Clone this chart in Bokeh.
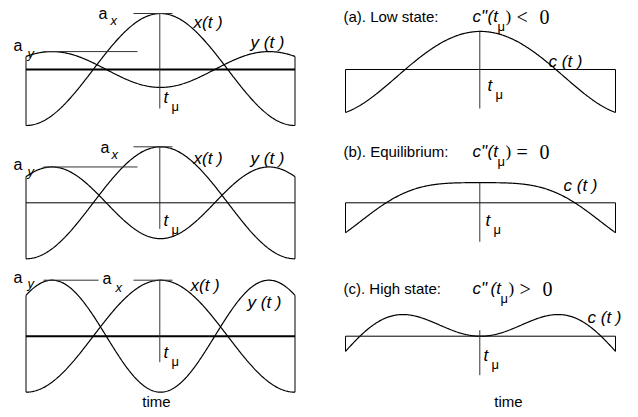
import numpy as np
from bokeh.plotting import figure
from bokeh.models import Range1d
from bokeh.core.properties import value
from bokeh.embed import file_html
from bokeh.resources import INLINE

# ---------------- data ----------------
panel_ids = ["a", "b", "c"]
state_labels = ["(a). Low state:", "(b). Equilibrium:", "(c). High state:"]
curv_signs = ["<", "=", ">"]
amp_x = [1.0, 1.0, 1.0]          # a_x per row
amp_y = [0.32, 0.64, 1.0]        # a_y per row
freq_ratio_y = 1.24              # y(t) oscillates faster than x(t)
x_name = "x(t )"
y_name = "y (t )"
c_name = "c (t )"
time_label = "time"
t_mu = "t"
mu = "\u03bc"

# ---------------- layout ----------------
W, H = 630, 409
p = figure(width=W, height=H, x_range=Range1d(0, W), y_range=Range1d(H, 0),
           output_backend="svg", toolbar_location=None, min_border=0)
p.axis.visible = False
p.grid.visible = False
p.outline_line_color = None
p.background_fill_color = "white"
p.border_fill_color = "white"

cxL, cxR = 160.0, 480.0
hwL, hwR = 134.5, 135.0
base_y = [69.0, 202.3, 335.7]
S = 56.0
base_w_left = [2.0, 1.0, 2.0]
tline_bottom_left = [39, 26, 26]
tline_bottom_right = 39

SANS = "Liberation Sans"
SERIF = "Liberation Serif"


def label(x, y, s, size=15, style="normal", font=SANS, align="left", baseline="middle"):
    p.text(x=[x], y=[y], text=[s], text_font=value(font), text_font_size=f"{size}px",
           text_font_style=style, text_align=align, text_baseline=baseline, text_color="black")


t = np.linspace(-np.pi, np.pi, 301)

for i in range(3):
    yb = base_y[i]
    xs = amp_x[i] * np.cos(t)
    ys = -amp_y[i] * np.cos(freq_ratio_y * t)
    cs = xs + ys

    # ---- left panel ----
    px = cxL + t / np.pi * hwL
    p.line(px, yb - S * xs, line_color="black", line_width=1.2)
    p.line(px, yb - S * ys, line_color="black", line_width=1.2)
    p.line([cxL - hwL, cxL + hwL], [yb, yb], line_color="black", line_width=base_w_left[i])
    p.line([cxL - hwL, cxL - hwL], [yb - S * ys[0], yb - S * xs[0]], line_color="black", line_width=1)
    p.line([cxL + hwL, cxL + hwL], [yb - S * ys[-1], yb - S * xs[-1]], line_color="black", line_width=1)
    # t_mu vertical
    p.line([cxL - 0.7, cxL - 0.7], [yb - S * amp_x[i], yb + tline_bottom_left[i]], line_color="#333333", line_width=1)
    # a_x tick
    p.line([cxL - 27, cxL + 12], [yb - S * amp_x[i]] * 2, line_color="#333333", line_width=1)
    # a_y tick
    ay_end = cxL - 23 if i < 2 else cxL - 62
    p.line([cxL - 117, ay_end], [yb - S * amp_y[i]] * 2, line_color="#333333", line_width=1)

    # ---- right panel ----
    qx = cxR + t / np.pi * hwR
    p.line(qx, yb - S * cs, line_color="black", line_width=1.2)
    p.line([cxR - hwR, cxR + hwR], [yb, yb], line_color="black", line_width=1)
    p.line([cxR - hwR, cxR - hwR], [yb, yb - S * cs[0]], line_color="black", line_width=1)
    p.line([cxR + hwR, cxR + hwR], [yb, yb - S * cs[-1]], line_color="black", line_width=1)
    top_c = yb - S * cs[len(cs) // 2]
    if i == 2:
        top_c = yb - 6
    p.line([cxR - 0.7, cxR - 0.7], [top_c, yb + tline_bottom_right], line_color="#333333", line_width=1)

# ---------------- texts: left panels ----------------
# row a
label(13, 45, "a", 16)
label(27, 53, "y", 13, "italic")
label(98, 13, "a", 16)
label(110, 20, "x", 13, "italic")
label(193, 22, x_name, 17, "italic")
label(250, 42, y_name, 17, "italic")
label(163, 97, t_mu, 17, "italic")
label(171, 106, mu, 13)
# row b
label(13, 164, "a", 16)
label(27, 171, "y", 13, "italic")
label(100, 147, "a", 16)
label(111, 154, "x", 13, "italic")
label(193, 158, x_name, 17, "italic")
label(250, 158, y_name, 17, "italic")
label(163, 220, t_mu, 17, "italic")
label(171, 229, mu, 13)
# row c
label(13, 277, "a", 16)
label(27, 283, "y", 13, "italic")
label(102, 278, "a", 16)
label(115, 287, "x", 13, "italic")
label(190, 285, x_name, 17, "italic")
label(247, 302, y_name, 17, "italic")
label(163, 352, t_mu, 17, "italic")
label(171, 361, mu, 13)

# ---------------- texts: right panels ----------------
title_y = [16, 151, 288]
for i in range(3):
    ty = title_y[i]
    label(343, ty, state_labels[i], 15)
    label(472, ty, 'c"', 17, "italic")
    gap = 0 if i < 2 else 3
    label(487 + gap, ty, "(t", 17, "italic")
    label(497 + gap, ty + 10, mu, 13)
    label(505 + gap, ty, ")", 17, font=SERIF)
    label(516 + gap, ty, curv_signs[i], 20, font=SERIF)
    label(539 + gap, ty, "0", 20, font=SERIF)

label(548, 61, c_name, 17, "italic")
label(487, 85, t_mu, 17, "italic")
label(495, 94, mu, 13)
label(563, 185, c_name, 17, "italic")
label(485, 220, t_mu, 17, "italic")
label(493, 229, mu, 13)
label(587, 317, c_name, 17, "italic")
label(483, 355, t_mu, 17, "italic")
label(491, 364, mu, 13)

label(156, 401, time_label, 15, align="center")
label(508, 401, time_label, 15, align="center")

open("out.html", "w").write(file_html(p, INLINE))
